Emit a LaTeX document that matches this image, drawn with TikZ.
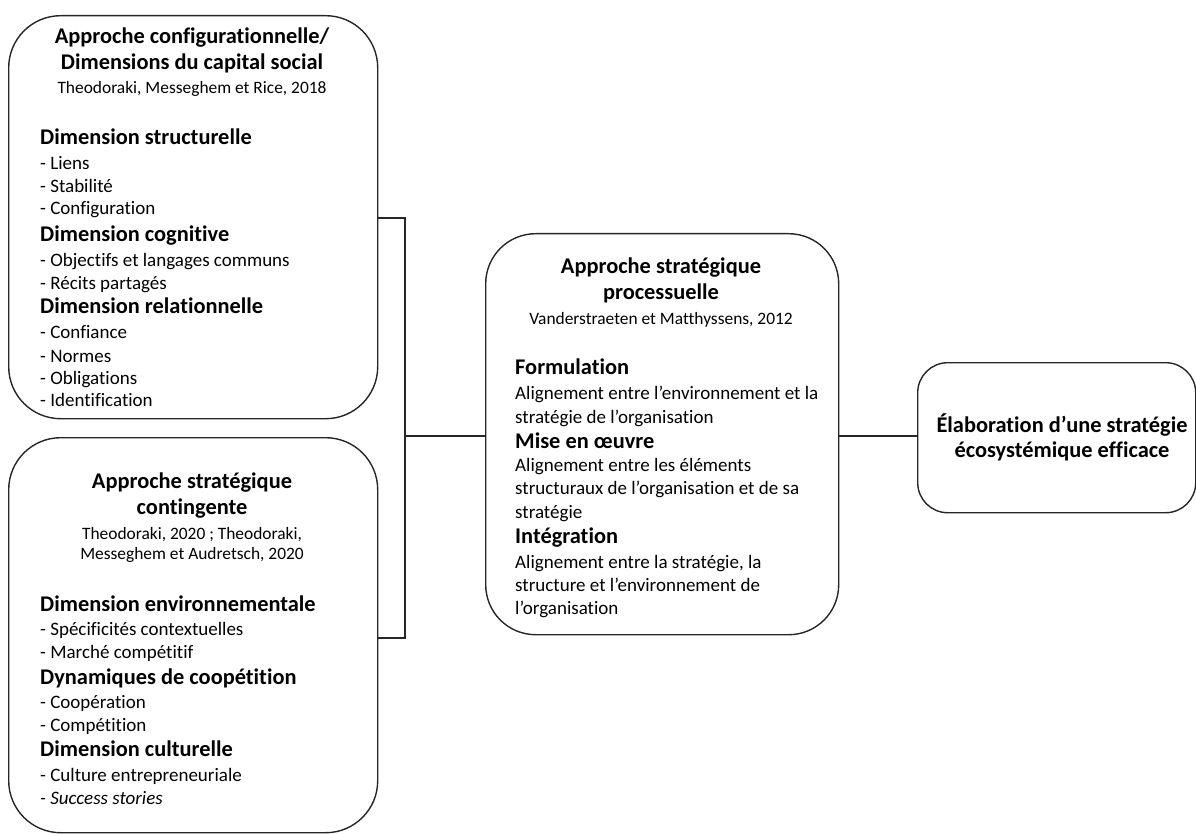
\documentclass[tikz,border=0pt]{standalone}
\usepackage{fontspec}
\setmainfont{Carlito}[Ligatures=NoCommon]
\begin{document}
\begin{tikzpicture}[x=1pt,y=-1pt,
 box/.style={draw=black!85, line width=1.4pt, anchor=north west, inner sep=0pt},
 txt/.style={inner sep=0pt, text height=0.72em, text depth=0.2em, yshift=-4pt},
 ttl/.style={txt, font=\fontsize{22.4}{26}\selectfont\bfseries, anchor=center},
 cite/.style={txt, font=\fontsize{17.4}{20}\selectfont, anchor=center},
 hd/.style={txt, font=\fontsize{22.4}{26}\selectfont\bfseries, anchor=west},
 itm/.style={txt, font=\fontsize{19}{22}\selectfont, anchor=west},
 conn/.style={line width=1.3pt, draw=black!85}]
\useasboundingbox (0,0) rectangle (1196,834);

% boxes
\node[box, rounded corners=52pt, minimum width=369pt, minimum height=403pt] (b1) at (8,15) {};
\node[box, rounded corners=52pt, minimum width=369pt, minimum height=395pt] (b2) at (8,437) {};
\node[box, rounded corners=50pt, minimum width=353pt, minimum height=401pt] (b3) at (485,233) {};
\node[box, rounded corners=30pt, minimum width=278pt, minimum height=150pt] (b4) at (917,362) {};

% connectors
\coordinate (j1) at (405,218);
\coordinate (j2) at (405,638);
\coordinate (jm) at (405,436);
\draw[conn] (b1.east |- j1) -- (j1) -- (j2) -- (b2.east |- j2);
\draw[conn] (jm) -- (b3.west |- jm);
\draw[conn] (b3.east |- jm) -- (b4.west |- jm);

% box 1
\node[ttl] (t1a) at (192,37) {Approche configurationnelle/};
\node[ttl] (t1b) at (192,63) {Dimensions du capital social};
\node[cite] (c1a) at (192,87) {Theodoraki, Messeghem et Rice, 2018};
\node[hd] (h1a) at (40,138) {Dimension structurelle};
\node[itm] (i1a) at (40,163) {- Liens};
\node[itm] (i1b) at (40,186) {- Stabilité};
\node[itm] (i1c) at (40,208) {- Configuration};
\node[hd] (h1b) at (40,235) {Dimension cognitive};
\node[itm] (i1d) at (40,260) {- Objectifs et langages communs};
\node[itm] (i1e) at (40,283) {- Récits partagés};
\node[hd] (h1c) at (40,307) {Dimension relationnelle};
\node[itm] (i1f) at (40,332) {- Confiance};
\node[itm] (i1g) at (40,356) {- Normes};
\node[itm] (i1h) at (40,378) {- Obligations};
\node[itm] (i1i) at (40,400) {- Identification};

% box 2
\node[ttl] (t2a) at (192,482) {Approche stratégique};
\node[ttl] (t2b) at (192,508) {contingente};
\node[cite] (c2a) at (192,533) {Theodoraki, 2020 ; Theodoraki,};
\node[cite] (c2b) at (192,553) {Messeghem et Audretsch, 2020};
\node[hd] (h2a) at (40,605) {Dimension environnementale};
\node[itm] (i2a) at (40,629) {- Spécificités contextuelles};
\node[itm] (i2b) at (40,652) {- Marché compétitif};
\node[hd] (h2b) at (40,678) {Dynamiques de coopétition};
\node[itm] (i2c) at (40,702) {- Coopération};
\node[itm] (i2d) at (40,725) {- Compétition};
\node[hd] (h2c) at (40,750) {Dimension culturelle};
\node[itm] (i2e) at (40,775) {- Culture entrepreneuriale};
\node[itm] (i2f) at (40,798) {\itshape - Success stories};

% box 3
\node[ttl] (t3a) at (661,267) {Approche stratégique};
\node[ttl] (t3b) at (661,293) {processuelle};
\node[cite] (c3a) at (661,318) {Vanderstraeten et Matthyssens, 2012};
\node[hd] (h3a) at (515,368) {Formulation};
\node[itm] (i3a) at (515,393) {Alignement entre l’environnement et la};
\node[itm] (i3b) at (515,417) {stratégie de l’organisation};
\node[hd] (h3b) at (515,442) {Mise en œuvre};
\node[itm] (i3c) at (515,465) {Alignement entre les éléments};
\node[itm] (i3d) at (515,488) {structuraux de l’organisation et de sa};
\node[itm] (i3e) at (515,512) {stratégie};
\node[hd] (h3c) at (515,537) {Intégration};
\node[itm] (i3f) at (515,562) {Alignement entre la stratégie, la};
\node[itm] (i3g) at (515,585) {structure et l’environnement de};
\node[itm] (i3h) at (515,608) {l’organisation};

% box 4
\node[ttl] (t4a) at (1062,426) {Élaboration d’une stratégie};
\node[ttl] (t4b) at (1062,451) {écosystémique efficace};
\end{tikzpicture}
\end{document}
